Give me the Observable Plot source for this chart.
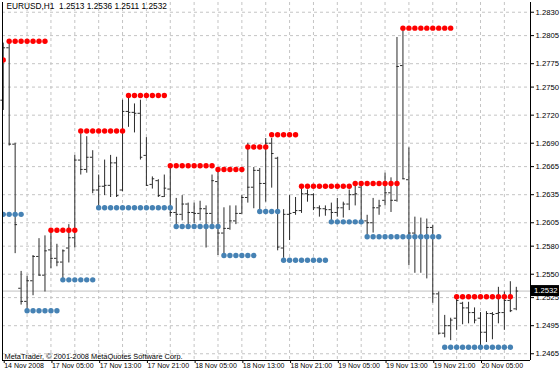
<!DOCTYPE html>
<html><head><meta charset="utf-8">
<script src="https://cdn.jsdelivr.net/npm/d3@7"></script>
<script src="https://cdn.jsdelivr.net/npm/@observablehq/plot@0.6"></script>
<style>
html,body{margin:0;padding:0;background:#fff;}
#chart{width:560px;height:373px;}
</style></head><body><div id="chart"></div>
<script>
// ---- data (EURUSD H1) ----
const open = [
1.2736,1.2792,1.2689,1.2535,1.2521,1.2543,1.2569,1.2549,1.2576,1.2567,
1.2563,1.2578,1.2589,1.2672,1.2662,1.2675,1.2640,1.2644,1.2645,1.2669,
1.2640,1.2724,1.2723,1.2722,1.2677,1.2646,1.2650,1.2633,1.2641,1.2616,
1.2614,1.2625,1.2616,1.2615,1.2620,1.2615,1.2649,1.2594,1.2599,1.2607,
1.2615,1.2632,1.2643,1.2661,1.2647,1.2690,1.2674,1.2578,1.2614,1.2616,
1.2618,1.2636,1.2635,1.2621,1.2620,1.2619,1.2616,1.2621,1.2625,1.2635,
1.2643,1.2607,1.2605,1.2621,1.2629,1.2637,1.2629,1.2773,1.2651,1.2594,
1.2590,1.2591,1.2600,1.2529,1.2487,1.2495,1.2503,1.2519,1.2514,1.2509,
1.2503,1.2488,1.2508,1.2508,1.2509,1.2522,1.2513];
const high = [
1.2797,1.2799,1.2690,1.2553,1.2548,1.2570,1.2588,1.2591,1.2598,1.2582,
1.2576,1.2603,1.2677,1.2700,1.2697,1.2682,1.2656,1.2672,1.2677,1.2675,
1.2736,1.2741,1.2732,1.2736,1.2696,1.2654,1.2651,1.2656,1.2666,1.2631,
1.2634,1.2626,1.2626,1.2628,1.2623,1.2656,1.2663,1.2621,1.2623,1.2623,
1.2634,1.2690,1.2664,1.2663,1.2695,1.2695,1.2675,1.2619,1.2634,1.2632,
1.2642,1.2640,1.2636,1.2623,1.2623,1.2626,1.2631,1.2627,1.2640,1.2647,
1.2644,1.2613,1.2631,1.2629,1.2658,1.2653,1.2803,1.2812,1.2685,1.2611,
1.2610,1.2609,1.2602,1.2531,1.2506,1.2503,1.2527,1.2520,1.2520,1.2514,
1.2509,1.2510,1.2509,1.2536,1.2531,1.2542,1.2536];
const low = [
1.2725,1.2687,1.2572,1.2517,1.2512,1.2527,1.2548,1.2531,1.2556,1.2558,
1.2544,1.2562,1.2578,1.2656,1.2658,1.2636,1.2621,1.2634,1.2632,1.2632,
1.2638,1.2707,1.2701,1.2672,1.2644,1.2641,1.2632,1.2632,1.2611,1.2602,
1.2607,1.2602,1.2604,1.2607,1.2578,1.2600,1.2570,1.2570,1.2597,1.2603,
1.2614,1.2626,1.2620,1.2618,1.2627,1.2642,1.2575,1.2567,1.2586,1.2613,
1.2615,1.2627,1.2618,1.2611,1.2612,1.2605,1.2611,1.2610,1.2618,1.2623,
1.2605,1.2590,1.2594,1.2613,1.2623,1.2616,1.2627,1.2651,1.2559,1.2551,
1.2551,1.2545,1.2519,1.2485,1.2482,1.2479,1.2490,1.2496,1.2497,1.2497,
1.2472,1.2477,1.2480,1.2497,1.2490,1.2509,1.2511];
const close = [
1.2792,1.2689,1.2603,1.2521,1.2543,1.2569,1.2549,1.2575,1.2567,1.2563,
1.2575,1.2589,1.2672,1.2662,1.2675,1.2640,1.2644,1.2645,1.2669,1.2634,
1.2724,1.2723,1.2722,1.2675,1.2645,1.2652,1.2634,1.2642,1.2616,1.2614,
1.2625,1.2616,1.2615,1.2620,1.2615,1.2650,1.2594,1.2599,1.2607,1.2615,
1.2632,1.2643,1.2661,1.2647,1.2690,1.2679,1.2579,1.2614,1.2615,1.2618,
1.2636,1.2635,1.2621,1.2620,1.2619,1.2616,1.2621,1.2625,1.2635,1.2636,
1.2607,1.2605,1.2621,1.2623,1.2637,1.2629,1.2772,1.2652,1.2594,1.2590,
1.2591,1.2600,1.2529,1.2487,1.2495,1.2501,1.2522,1.2514,1.2509,1.2501,
1.2488,1.2508,1.2507,1.2509,1.2522,1.2511,1.2532];
// resistance (red) and support (blue) dot levels per bar, null = no dot
const resistance = [
1.2779,1.2799,1.2799,1.2799,1.2799,1.2799,1.2799,1.2799,1.2597,1.2597,
1.2597,1.2597,1.2597,1.2703,1.2703,1.2703,1.2703,1.2703,1.2703,1.2703,
1.2703,1.2741,1.2741,1.2741,1.2741,1.2741,1.2741,1.2741,1.2666,1.2666,
1.2666,1.2666,1.2666,1.2666,1.2666,1.2666,1.2662,1.2662,1.2662,1.2662,
1.2662,1.2686,1.2686,1.2686,1.2686,1.2699,1.2699,1.2699,1.2699,1.2699,
1.2644,1.2644,1.2644,1.2644,1.2644,1.2644,1.2644,1.2644,1.2644,1.2647,
1.2647,1.2647,1.2647,1.2647,1.2647,1.2647,1.2647,1.2813,1.2813,1.2813,
1.2813,1.2813,1.2813,1.2813,1.2813,1.2813,1.2526,1.2526,1.2526,1.2526,
1.2526,1.2526,1.2526,1.2526,1.2526,1.2526,null];
const support = [
1.2614,1.2614,1.2614,1.2614,1.2511,1.2511,1.2511,1.2511,1.2511,1.2511,
1.2544,1.2544,1.2544,1.2544,1.2544,1.2544,1.2621,1.2621,1.2621,1.2621,
1.2621,1.2621,1.2621,1.2621,1.2621,1.2621,1.2621,1.2621,1.2621,1.2601,
1.2601,1.2601,1.2601,1.2601,1.2601,1.2601,1.2601,1.2570,1.2570,1.2570,
1.2570,1.2570,1.2570,1.2617,1.2617,1.2617,1.2617,1.2565,1.2565,1.2565,
1.2565,1.2565,1.2565,1.2565,1.2565,1.2606,1.2606,1.2606,1.2606,1.2606,
1.2606,1.2590,1.2590,1.2590,1.2590,1.2590,1.2590,1.2590,1.2590,1.2590,
1.2590,1.2590,1.2590,1.2590,1.2472,1.2472,1.2472,1.2472,1.2472,1.2472,
1.2472,1.2472,1.2472,1.2472,1.2472,1.2472,null];
const xTickBars = [0, 8, 16, 24, 32, 40, 48, 56, 64, 72, 80];
const xTickLabels = ["14 Nov 2008","17 Nov 05:00","17 Nov 13:00","17 Nov 21:00","18 Nov 05:00",
  "18 Nov 13:00","18 Nov 21:00","19 Nov 05:00","19 Nov 13:00","19 Nov 21:00","20 Nov 05:00"];
const xGridBars = [4,8,12,16,20,24,28,32,36,40,44,48,52,56,60,64,68,72,76,80,84];
const yTicks = [1.2830,1.2805,1.2775,1.2750,1.2720,1.2690,1.2665,1.2635,1.2605,1.2580,1.2550,1.2525,1.2495,1.2465];
const symbol = "EURUSD,H1";
const lastQuote = [1.2513, 1.2536, 1.2511, 1.2532];
const bid = 1.2532;
const copyright = "MetaTrader, \u00A9 2001-2008 MetaQuotes Software Corp.";

// ---- build ----
const bars = open.map((o, i) => ({i, open: o, high: high[i], low: low[i], close: close[i]}));
const resDots = resistance.map((v, i) => ({i, v})).filter(d => d.v != null);
const supDots = support.map((v, i) => ({i, v})).filter(d => d.v != null);
const xDom = [-0.12, 88.38];
const yDom = [1.24578, 1.28404];
const font = "'Liberation Sans', Arial, sans-serif";
const barColor = "#2a2a2a";
const title = symbol + "\u00A0\u00A0" + lastQuote.map(v => v.toFixed(4)).join(" ");

const chart = Plot.plot({
  width: 560, height: 373,
  marginLeft: 2, marginRight: 30, marginTop: 2, marginBottom: 13,
  style: {background: "#fff", fontFamily: font, fontSize: "7px", color: "#000", overflow: "visible"},
  x: {type: "linear", domain: xDom},
  y: {domain: yDom},
  marks: [
    Plot.gridX(xGridBars, {stroke: "#c4c4c4", strokeOpacity: 1, strokeDasharray: "3,3"}),
    Plot.gridY(yTicks, {stroke: "#c4c4c4", strokeOpacity: 1, strokeDasharray: "3,3"}),
    Plot.ruleY([bid], {stroke: "#c0c0c0"}),
    Plot.ruleX(bars, {x: "i", y1: "low", y2: "high", stroke: barColor}),
    Plot.ruleY(bars, {y: "open", x1: d => d.i - 0.4, x2: "i", stroke: barColor}),
    Plot.ruleY(bars, {y: "close", x1: "i", x2: d => d.i + 0.4, stroke: barColor}),
    Plot.dot(resDots, {x: "i", y: "v", r: 2.7, fill: "#ff0000", clip: true}),
    Plot.dot(supDots, {x: "i", y: "v", r: 2.7, fill: "#4682b4", clip: true}),
    Plot.axisY(yTicks, {anchor: "right", tickSize: 3, tickPadding: 2, fontSize: 7.7, tickFormat: d => d.toFixed(4), label: null}),
    Plot.axisX(xTickBars, {anchor: "bottom", tickSize: 3, tickPadding: 0, textAnchor: "start", dx: 1, fontSize: 7,
      tickFormat: d => xTickLabels[xTickBars.indexOf(d)], label: null}),
    Plot.ruleX(xDom, {stroke: "#000"}),
    Plot.ruleY([yDom[0]], {stroke: "#000"}),
    Plot.text([title], {frameAnchor: "top-left", dx: 4, dy: 1, fontSize: 8.3, fill: "#000"}),
    Plot.text([copyright], {frameAnchor: "bottom-left", dx: 2, dy: -2, fontSize: 7.4, fill: "#000"})
  ]
});
document.getElementById("chart").appendChild(chart);

// current price box on the right axis
const yb = chart.scale("y").apply(bid);
const xr = chart.scale("x").apply(xDom[1]);
const svg = d3.select(chart);
const g = svg.append("g");
g.append("rect").attr("x", xr + 1).attr("y", yb - 5.5).attr("width", 28).attr("height", 11).attr("fill", "#000");
g.append("text").attr("x", xr + 4).attr("y", yb).attr("dy", "0.35em").attr("fill", "#fff")
  .attr("text-anchor", "start").attr("font-family", font).attr("font-size", 7.7).text(bid.toFixed(4));
</script>
</body></html>
